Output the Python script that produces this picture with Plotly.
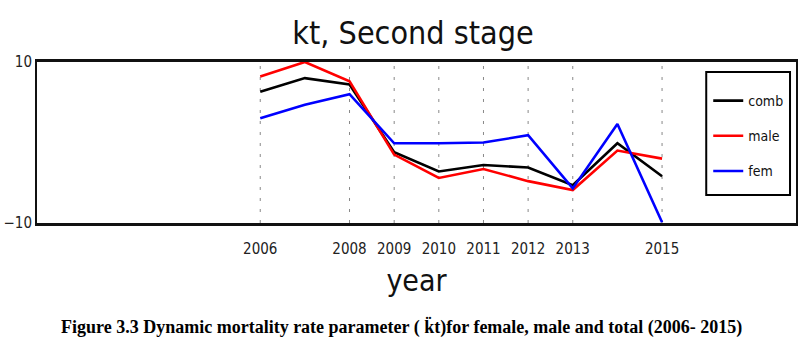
import plotly.graph_objects as go

years = [2006, 2007, 2008, 2009, 2010, 2011, 2012, 2013, 2014, 2015]
comb = [6.3, 8.0, 7.2, -1.2, -3.6, -2.8, -3.1, -5.3, -0.1, -4.2]
male = [8.2, 10.0, 7.6, -1.5, -4.4, -3.3, -4.8, -5.9, -1.0, -2.0]
fem = [3.0, 4.7, 6.0, -0.1, -0.1, 0.0, 0.9, -5.7, 2.3, -9.9]
tick_years = [2006, 2008, 2009, 2010, 2011, 2012, 2013, 2015]
y_ticks = [-10, 10]

W, H = 801, 340
L, R, T, B = 37, 3, 62, 117
ph = H - T - B

def py(p):
    return (H - B - p) / ph

def px(p):
    return (p - L) / (W - L - R)

FONT = "DejaVu Sans Condensed, DejaVu Sans, sans-serif"

fig = go.Figure()
for name, vals, col in [("comb", comb, "black"), ("male", male, "red"), ("fem", fem, "blue")]:
    fig.add_trace(go.Scatter(x=years, y=vals, mode="lines", name=name, legendgroup=name,
                             line=dict(color=col, width=2.6)))

for ty in tick_years:
    fig.add_shape(type="line", xref="x", yref="paper", x0=ty, x1=ty, y0=0, y1=1,
                  line=dict(color="#888888", width=1, dash="3px,8px"), layer="below")

# legend frame
fig.add_shape(type="rect", xref="paper", yref="paper",
              x0=px(708), x1=px(792), y0=py(195), y1=py(72),
              line=dict(color="black", width=2), fillcolor="white", layer="above")

fig.update_layout(
    width=W, height=H,
    margin=dict(l=L, r=R, t=T, b=B),
    paper_bgcolor="white", plot_bgcolor="white",
    title=dict(text="kt, Second stage", x=413 / W, xanchor="center",
               y=1 - 33 / H, yanchor="middle",
               font=dict(family=FONT, size=32, color="#111111")),
    xaxis=dict(range=[2001, 2018], tickvals=tick_years,
               ticktext=[str(t) for t in tick_years],
               showgrid=False, zeroline=False, showline=True, linecolor="#111111",
               linewidth=3, mirror=True, ticks="", ticklabelstandoff=10,
               tickfont=dict(family=FONT, size=15, color="#222222"),
               title=dict(text="year", font=dict(family=FONT, size=30, color="#111111"),
                          standoff=13)),
    yaxis=dict(range=[-10, 10], tickvals=y_ticks, ticktext=["\u221210", "10"],
               showgrid=False, zeroline=False, showline=True, linecolor="#111111",
               linewidth=2, mirror=True, ticks="",
               tickfont=dict(family=FONT, size=15, color="#222222")),
    legend=dict(x=px(710), y=py(85), xanchor="left", yanchor="top",
                bgcolor="rgba(0,0,0,0)", borderwidth=0,
                font=dict(family=FONT, size=14, color="#111111"),
                itemwidth=30, tracegroupgap=14),
    showlegend=True,
)

fig.add_annotation(
    text="<b>Figure 3.3 Dynamic mortality rate parameter ( k\u0308t)for female, male and total (2006- 2015)</b>",
    xref="paper", yref="paper", x=px(402), y=py(314), xanchor="center", yanchor="top",
    showarrow=False, font=dict(family="Liberation Serif, Times New Roman, serif", size=18,
                               color="black"))

fig.write_html("out.html")
